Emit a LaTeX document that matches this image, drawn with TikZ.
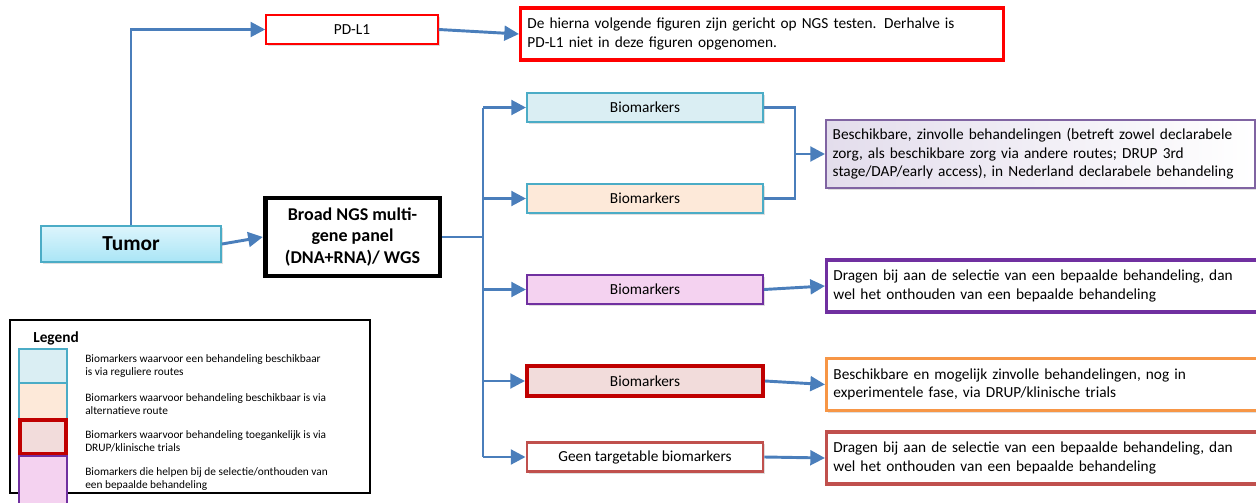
\documentclass[tikz,border=0pt]{standalone}
\usepackage{fontspec}
\setmainfont{Carlito}
\usetikzlibrary{arrows.meta,positioning,calc,shadows}
\definecolor{pijlblauw}{HTML}{4A7EBB}
\definecolor{cyaanrand}{HTML}{4BACC6}
\definecolor{lichtblauw}{HTML}{DAEEF3}
\definecolor{perzik}{HTML}{FDE9D9}
\definecolor{roze}{HTML}{F4D2F0}
\definecolor{paars}{HTML}{7030A0}
\definecolor{donkerrood}{HTML}{C00000}
\definecolor{lichtrood}{HTML}{F2DCDB}
\definecolor{steenrood}{HTML}{C0504D}
\definecolor{oranje}{HTML}{F79646}
\definecolor{lavendelrand}{HTML}{8064A2}
\definecolor{lavendel}{HTML}{E3DDEC}
\definecolor{tumortop}{HTML}{DDF5FC}
\definecolor{tumoronder}{HTML}{A9E5F6}

\tikzset{
  box/.style={draw, align=center, inner sep=2pt, font=\fontsize{11.5}{14}\selectfont,
    drop shadow={shadow xshift=1.2pt, shadow yshift=-1.5pt, opacity=0.25}},
  bio/.style={box, line width=1.5pt, minimum width=177pt, minimum height=22pt},
  uitleg/.style={box, anchor=west, fill=white, line width=2.6pt, align=left,
    text width=330pt, minimum height=39pt, inner xsep=5pt, inner ysep=3pt},
  pijl/.style={pijlblauw, line width=2.2pt, -{Triangle[length=11pt,width=11pt]}},
  lijn/.style={pijlblauw, line width=2.2pt},
  staal/.style={draw, line width=1.2pt, minimum width=36pt},
  legtekst/.style={anchor=west, align=left, inner sep=0pt, font=\fontsize{8.5}{9.8}\selectfont}
}

\begin{document}
\begin{tikzpicture}[x=0.75pt, y=-0.75pt]
    \useasboundingbox (0,0) rectangle (1256,503);
    \clip (0,0) rectangle (1256,503);

    \node [box, top color=tumortop, bottom color=tumoronder, draw=cyaanrand, line width=1.5pt,
           minimum width=135pt, minimum height=27pt, font=\fontsize{16}{18}\selectfont\bfseries] (tumor) at (131,244) {Tumor};
    \node [box, fill=white, draw=red, line width=1.1pt, minimum width=129pt, minimum height=21.75pt] (pdl1) at (352,29.5) {PD-L1};
    \node [uitleg, draw=red, text width=352pt] (noot) at (519,34) {De hierna volgende figuren zijn gericht op NGS testen. Derhalve is\\PD-L1 niet in deze figuren opgenomen.};
    \node [box, fill=white, line width=3.5pt, minimum width=131pt, minimum height=58.5pt,
           font=\fontsize{13.5}{16}\selectfont\bfseries] (ngs) at (352.5,237) {Broad NGS multi-\\gene panel\\(DNA+RNA)/ WGS};

    \node [bio, fill=lichtblauw, draw=cyaanrand] (b1) at (645,107.5) {Biomarkers};
    \node [bio, fill=perzik, draw=cyaanrand] (b2) at (645,198.5) {Biomarkers};
    \node [bio, fill=roze, draw=paars] (b3) at (645,289.5) {Biomarkers};
    \node [bio, fill=lichtrood, draw=donkerrood, line width=3pt] (b4) at (645,381) {Biomarkers};
    \node [bio, fill=white, draw=steenrood, line width=2.2pt] (b5) at (645,457) {Geen targetable biomarkers};

    \node [uitleg, left color=lavendel, right color=white, draw=lavendelrand, line width=1.5pt,
           text width=312pt, minimum height=51pt] (r1) at (825,154) {Beschikbare, zinvolle behandelingen (betreft zowel declarabele\\zorg, als beschikbare zorg via andere routes; DRUP 3rd\\stage/DAP/early access), in Nederland declarabele behandeling};
    \node [uitleg, draw=paars] (r2) at (825,286) {Dragen bij aan de selectie van een bepaalde behandeling, dan\\wel het onthouden van een bepaalde behandeling};
    \node [uitleg, draw=oranje] (r3) at (825,384.5) {Beschikbare en mogelijk zinvolle behandelingen, nog in\\experimentele fase, via DRUP/klinische trials};
    \node [uitleg, draw=steenrood] (r4) at (825,458) {Dragen bij aan de selectie van een bepaalde behandeling, dan\\wel het onthouden van een bepaalde behandeling};

    \coordinate (bus) at (483,0);
    \coordinate (samen) at (795,0);

    \draw [pijl] (tumor.north) |- (pdl1.west);
    \draw [pijl] (pdl1.east) -- (noot.west);
    \draw [pijl] (tumor.east) -- (ngs.west);
    \draw [lijn] (ngs.east) -- (ngs.east -| bus);
    \draw [lijn] (bus |- b1.west) -- (bus |- b5.west);
    \foreach \b in {b1,b2,b3,b4,b5}
        \draw [pijl] (bus |- \b.west) -- (\b.west);
    \draw [lijn] (b1.east) -| (samen |- b2.east) -- (b2.east);
    \draw [pijl] (samen |- r1.west) -- (r1.west);
    \draw [pijl] (b3.east) -- (r2.west);
    \draw [pijl] (b4.east) -- (r3.west);
    \draw [pijl] (b5.east) -- (r4.west);

    % legenda
    \draw [line width=1.1pt] (10,320) rectangle (370,493);
    \node [anchor=west, inner sep=0pt, font=\fontsize{11.5}{13}\selectfont\bfseries] (legend) at (33,338) {Legend};
    \node [staal, fill=lichtblauw, draw=cyaanrand, minimum height=25.5pt] (s1) at (43,366) {};
    \node [staal, fill=perzik, draw=cyaanrand, minimum height=26pt] (s2) at (43,401) {};
    \node [staal, fill=lichtrood, draw=donkerrood, line width=3pt, minimum width=35pt, minimum height=26pt] (s3) at (43,437) {};
    \node [staal, fill=roze, draw=paars, minimum height=42pt] (s4) at (43,484) {};
    \node [legtekst] (t1) at (85,366) {Biomarkers waarvoor een behandeling beschikbaar\\is via reguliere routes};
    \node [legtekst] (t2) at (85,404) {Biomarkers waarvoor behandeling beschikbaar is via\\alternatieve route};
    \node [legtekst] (t3) at (85,441) {Biomarkers waarvoor behandeling toegankelijk is via\\DRUP/klinische trials};
    \node [legtekst] (t4) at (85,479) {Biomarkers die helpen bij de selectie/onthouden van\\een bepaalde behandeling};
\end{tikzpicture}
\end{document}
